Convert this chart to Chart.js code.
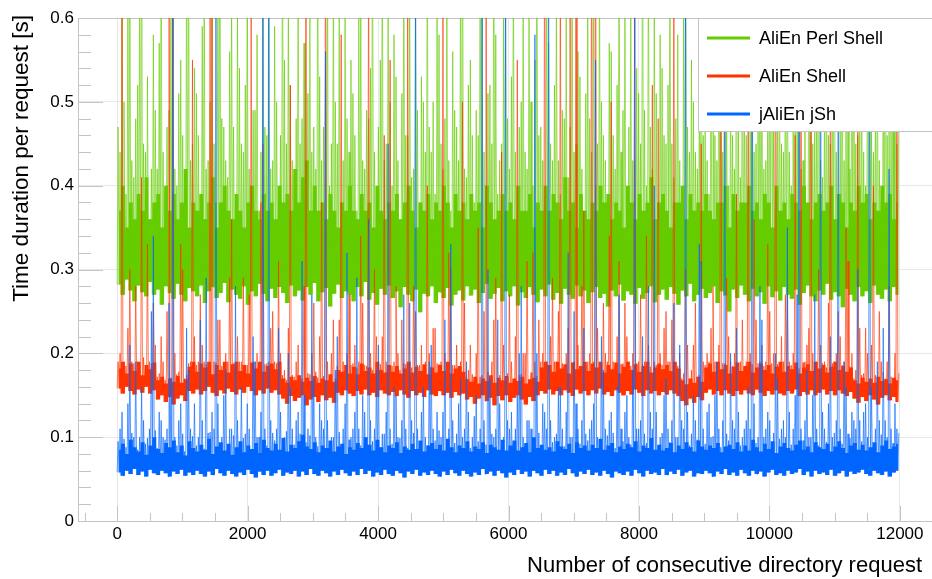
<!DOCTYPE html>
<html>
<head>
<meta charset="utf-8">
<script src="https://cdn.jsdelivr.net/npm/chart.js@4.4.1/dist/chart.umd.min.js"></script>
<style>
  html, body { margin: 0; padding: 0; background: #fff; overflow: hidden; }
  #wrap { width: 939px; height: 579px; }
</style>
</head>
<body>
<div id="wrap"><canvas id="chart" width="939" height="579"></canvas></div>
<script>
// every bin holds 60 consecutive requests [s]:
// lo = shortest time, top = upper edge of the dense band,
// hi / hi2 = the two longest times (spikes)
const binSize = 60;

const seriesNames = ["AliEn Perl Shell", "AliEn Shell", "jAliEn jSh"];
const seriesColors = ["#66cc00", "#ff3300", "#0066ff"];
const spikeColors = ["rgba(102,204,0,0.65)", "rgba(255,51,0,0.65)", "rgba(0,102,255,0.65)"];

const xTickValues = [0, 2000, 4000, 6000, 8000, 10000, 12000];
const yTickValues = [0, 0.1, 0.2, 0.3, 0.4, 0.5, 0.6];

const perlLo = [
  0.282, 0.27, 0.288, 0.275, 0.262, 0.281, 0.273, 0.268, 0.285, 0.27,
  0.276, 0.258, 0.28, 0.272, 0.265, 0.283, 0.27, 0.262, 0.278, 0.274,
  0.268, 0.281, 0.26, 0.274, 0.279, 0.266, 0.272, 0.284, 0.261, 0.276,
  0.27, 0.265, 0.28, 0.258, 0.274, 0.268, 0.283, 0.271, 0.262, 0.277,
  0.266, 0.279, 0.272, 0.26, 0.281, 0.268, 0.275, 0.263, 0.279, 0.27,
  0.284, 0.262, 0.273, 0.278, 0.256, 0.271, 0.282, 0.266, 0.274, 0.27,
  0.262, 0.279, 0.268, 0.285, 0.264, 0.272, 0.258, 0.277, 0.27, 0.281,
  0.266, 0.274, 0.255, 0.279, 0.27, 0.262, 0.276, 0.249, 0.271, 0.268,
  0.28, 0.26, 0.273, 0.266, 0.278, 0.257, 0.27, 0.275, 0.263, 0.28,
  0.269, 0.276, 0.26, 0.272, 0.283, 0.265, 0.271, 0.278, 0.262, 0.274,
  0.268, 0.28, 0.257, 0.273, 0.266, 0.279, 0.27, 0.261, 0.276, 0.268,
  0.282, 0.264, 0.272, 0.259, 0.277, 0.27, 0.265, 0.281, 0.268, 0.275,
  0.26, 0.273, 0.279, 0.266, 0.271, 0.256, 0.275, 0.268, 0.282, 0.263,
  0.274, 0.27, 0.259, 0.278, 0.265, 0.272, 0.28, 0.261, 0.27, 0.276,
  0.264, 0.279, 0.271, 0.258, 0.275, 0.268, 0.283, 0.262, 0.27, 0.277,
  0.266, 0.272, 0.28, 0.26, 0.274, 0.269, 0.25, 0.276, 0.266, 0.281,
  0.27, 0.262, 0.277, 0.268, 0.273, 0.259, 0.28, 0.267, 0.274, 0.263,
  0.279, 0.27, 0.265, 0.276, 0.258, 0.272, 0.281, 0.268, 0.262, 0.275,
  0.27, 0.283, 0.264, 0.273, 0.268, 0.255, 0.277, 0.27, 0.262, 0.279,
  0.268, 0.274, 0.26, 0.281, 0.27, 0.265, 0.276, 0.262, 0.279, 0.27
];
const perlTop = [
  0.37, 0.4, 0.35, 0.38, 0.36, 0.39, 0.37, 0.41, 0.36, 0.38,
  0.39, 0.35, 0.4, 0.37, 0.39, 0.36, 0.38, 0.42, 0.35, 0.38,
  0.37, 0.39, 0.36, 0.38, 0.41, 0.35, 0.38, 0.4, 0.37, 0.36,
  0.39, 0.37, 0.35, 0.38, 0.4, 0.37, 0.36, 0.39, 0.37, 0.38,
  0.36, 0.4, 0.38, 0.39, 0.37, 0.42, 0.38, 0.41, 0.43, 0.37,
  0.4, 0.37, 0.38, 0.36, 0.39, 0.37, 0.35, 0.38, 0.37, 0.4,
  0.37, 0.36, 0.39, 0.37, 0.38, 0.35, 0.4, 0.37, 0.36, 0.38,
  0.37, 0.39, 0.36, 0.38, 0.4, 0.37, 0.35, 0.38, 0.37, 0.39,
  0.36, 0.38, 0.37, 0.4, 0.38, 0.35, 0.39, 0.37, 0.38, 0.36,
  0.39, 0.37, 0.38, 0.35, 0.4, 0.38, 0.36, 0.37, 0.39, 0.37,
  0.38, 0.36, 0.4, 0.37, 0.37, 0.39, 0.35, 0.38, 0.37, 0.4,
  0.37, 0.39, 0.38, 0.36, 0.41, 0.37, 0.38, 0.35, 0.39, 0.37,
  0.36, 0.38, 0.37, 0.4, 0.38, 0.39, 0.36, 0.38, 0.37, 0.35,
  0.4, 0.38, 0.36, 0.39, 0.37, 0.38, 0.41, 0.36, 0.38, 0.39,
  0.37, 0.35, 0.38, 0.38, 0.4, 0.36, 0.39, 0.37, 0.38, 0.37,
  0.39, 0.37, 0.36, 0.38, 0.38, 0.4, 0.35, 0.39, 0.37, 0.38,
  0.38, 0.4, 0.37, 0.38, 0.36, 0.39, 0.38, 0.35, 0.4, 0.37,
  0.38, 0.36, 0.39, 0.38, 0.37, 0.4, 0.38, 0.36, 0.38, 0.39,
  0.37, 0.38, 0.4, 0.36, 0.39, 0.38, 0.35, 0.38, 0.37, 0.4,
  0.38, 0.39, 0.36, 0.38, 0.37, 0.4, 0.38, 0.39, 0.36, 0.38
];
const perlHi = [
  0.47, 0.62, 0.39, 0.7, 0.41, 0.52, 0.8, 0.44, 0.36, 0.58,
  0.42, 0.75, 0.38, 0.49, 0.66, 0.4, 0.55, 0.37, 0.72, 0.45,
  0.51, 0.39, 0.68, 0.43, 0.6, 0.38, 0.8, 0.47, 0.41, 0.63,
  0.36, 0.54, 0.44, 0.71, 0.4, 0.49, 0.37, 0.65, 0.46, 0.42,
  0.59, 0.38, 0.76, 0.45, 0.52, 0.41, 0.69, 0.48, 0.39, 0.62,
  0.47, 0.74, 0.43, 0.56, 0.4, 0.67, 0.45, 0.38, 0.6, 0.44,
  0.51, 0.37, 0.64, 0.42, 0.48, 0.78, 0.39, 0.55, 0.43, 0.66,
  0.4, 0.53, 0.36, 0.7, 0.46, 0.41, 0.61, 0.38, 0.5, 0.73,
  0.44, 0.39, 0.58, 0.42, 0.67, 0.37, 0.49, 0.43, 0.8, 0.41,
  0.55, 0.38, 0.46, 0.63, 0.4, 0.52, 0.74, 0.39, 0.45, 0.6,
  0.42, 0.69, 0.37, 0.5, 0.44, 0.62, 0.4, 0.77, 0.47, 0.38,
  0.57, 0.43, 0.65, 0.39, 0.48, 0.41, 0.72, 0.45, 0.53, 0.37,
  0.61, 0.44, 0.4, 0.68, 0.46, 0.38, 0.56, 0.42, 0.75, 0.49,
  0.39, 0.6, 0.43, 0.51, 0.79, 0.4, 0.47, 0.64, 0.38, 0.54,
  0.45, 0.71, 0.41, 0.58, 0.37, 0.66, 0.44, 0.5, 0.42, 0.73,
  0.48, 0.39, 0.62, 0.43, 0.55, 0.76, 0.4, 0.46, 0.67, 0.41,
  0.52, 0.38, 0.7, 0.45, 0.6, 0.42, 0.49, 0.8, 0.39, 0.57,
  0.44, 0.64, 0.4, 0.51, 0.73, 0.43, 0.37, 0.59, 0.47, 0.68,
  0.41, 0.55, 0.45, 0.77, 0.39, 0.62, 0.48, 0.42, 0.7, 0.46,
  0.53, 0.4, 0.66, 0.44, 0.58, 0.38, 0.72, 0.47, 0.61, 0.45
];
const perlHi2 = [
  0.44, 0.5, 0.61, 0.43, 0.48, 0.66, 0.45, 0.53, 0.42, 0.49,
  0.57, 0.44, 0.47, 0.63, 0.42, 0.51, 0.46, 0.7, 0.43, 0.54,
  0.46, 0.59, 0.42, 0.5, 0.45, 0.68, 0.48, 0.43, 0.56, 0.47,
  0.62, 0.45, 0.52, 0.42, 0.49, 0.58, 0.44, 0.47, 0.73, 0.43,
  0.5, 0.46, 0.55, 0.64, 0.43, 0.48, 0.45, 0.57, 0.51, 0.44,
  0.42, 0.53, 0.47, 0.69, 0.45, 0.5, 0.61, 0.43, 0.48, 0.55,
  0.46, 0.6, 0.43, 0.49, 0.54, 0.44, 0.47, 0.72, 0.45, 0.5,
  0.58, 0.43, 0.51, 0.46, 0.65, 0.42, 0.49, 0.53, 0.44, 0.47,
  0.5, 0.62, 0.45, 0.48, 0.43, 0.56, 0.47, 0.67, 0.42, 0.52,
  0.46, 0.49, 0.71, 0.44, 0.51, 0.45, 0.58, 0.43, 0.6, 0.48,
  0.53, 0.44, 0.47, 0.64, 0.42, 0.5, 0.55, 0.46, 0.43, 0.68,
  0.45, 0.52, 0.43, 0.49, 0.6, 0.47, 0.44, 0.56, 0.42, 0.51,
  0.48, 0.66, 0.45, 0.5, 0.43, 0.57, 0.46, 0.52, 0.44, 0.63,
  0.47, 0.43, 0.54, 0.45, 0.49, 0.7, 0.42, 0.51, 0.58, 0.46,
  0.52, 0.45, 0.48, 0.43, 0.61, 0.47, 0.55, 0.44, 0.5, 0.46,
  0.43, 0.57, 0.46, 0.65, 0.44, 0.49, 0.53, 0.42, 0.47, 0.6,
  0.46, 0.51, 0.44, 0.48, 0.56, 0.43, 0.69, 0.47, 0.5, 0.45,
  0.59, 0.44, 0.48, 0.53, 0.42, 0.47, 0.62, 0.45, 0.51, 0.43,
  0.5, 0.46, 0.57, 0.44, 0.49, 0.43, 0.54, 0.66, 0.45, 0.48,
  0.44, 0.61, 0.47, 0.5, 0.43, 0.55, 0.46, 0.49, 0.64, 0.52
];

const shellLo = [
  0.158, 0.152, 0.16, 0.155, 0.151, 0.157, 0.153, 0.16, 0.152, 0.156,
  0.145, 0.15, 0.142, 0.148, 0.139, 0.146, 0.15, 0.143, 0.155, 0.152,
  0.157, 0.151, 0.155, 0.16, 0.153, 0.149, 0.156, 0.152, 0.158, 0.154,
  0.151, 0.157, 0.153, 0.16, 0.155, 0.15, 0.156, 0.152, 0.158, 0.153,
  0.156, 0.151, 0.146, 0.14, 0.149, 0.143, 0.147, 0.15, 0.138, 0.145,
  0.148, 0.142, 0.15, 0.144, 0.147, 0.141, 0.153, 0.15, 0.156, 0.152,
  0.149, 0.155, 0.151, 0.157, 0.15, 0.153, 0.148, 0.156, 0.152, 0.15,
  0.154, 0.149, 0.156, 0.151, 0.147, 0.155, 0.15, 0.153, 0.148, 0.156,
  0.151, 0.149, 0.155, 0.15, 0.153, 0.147, 0.154, 0.15, 0.152, 0.145,
  0.148, 0.14, 0.146, 0.15, 0.143, 0.147, 0.138, 0.149, 0.144, 0.15,
  0.142, 0.147, 0.15, 0.145, 0.139, 0.148, 0.143, 0.15, 0.155, 0.152,
  0.157, 0.151, 0.155, 0.15, 0.156, 0.153, 0.149, 0.157, 0.152, 0.155,
  0.15, 0.156, 0.152, 0.158, 0.151, 0.154, 0.149, 0.156, 0.153, 0.15,
  0.155, 0.151, 0.157, 0.153, 0.149, 0.156, 0.152, 0.155, 0.15, 0.154,
  0.151, 0.156, 0.152, 0.149, 0.143, 0.138, 0.146, 0.141, 0.148, 0.144,
  0.153, 0.157, 0.151, 0.155, 0.15, 0.156, 0.152, 0.149, 0.155, 0.151,
  0.156, 0.152, 0.15, 0.157, 0.153, 0.149, 0.155, 0.151, 0.156, 0.152,
  0.15, 0.155, 0.152, 0.157, 0.149, 0.154, 0.151, 0.156, 0.15, 0.153,
  0.157, 0.151, 0.155, 0.15, 0.156, 0.152, 0.149, 0.154, 0.146, 0.141,
  0.148, 0.143, 0.15, 0.145, 0.139, 0.147, 0.15, 0.144, 0.148, 0.142
];
const shellTop = [
  0.182, 0.19, 0.176, 0.188, 0.179, 0.19, 0.174, 0.186, 0.181, 0.189,
  0.168, 0.172, 0.164, 0.17, 0.166, 0.173, 0.165, 0.169, 0.184, 0.19,
  0.178, 0.188, 0.183, 0.19, 0.175, 0.186, 0.18, 0.19, 0.177, 0.187,
  0.19, 0.179, 0.186, 0.176, 0.189, 0.182, 0.19, 0.178, 0.185, 0.188,
  0.181, 0.19, 0.17, 0.165, 0.172, 0.168, 0.174, 0.166, 0.171, 0.167,
  0.173, 0.165, 0.17, 0.168, 0.175, 0.166, 0.18, 0.178, 0.186, 0.176,
  0.184, 0.175, 0.188, 0.179, 0.183, 0.176, 0.19, 0.18, 0.177, 0.186,
  0.178, 0.185, 0.176, 0.182, 0.19, 0.177, 0.184, 0.179, 0.187, 0.175,
  0.183, 0.177, 0.186, 0.179, 0.19, 0.176, 0.182, 0.185, 0.178, 0.169,
  0.166, 0.172, 0.164, 0.17, 0.167, 0.174, 0.165, 0.171, 0.168, 0.173,
  0.165, 0.17, 0.167, 0.172, 0.164, 0.169, 0.171, 0.166, 0.183, 0.19,
  0.186, 0.178, 0.19, 0.182, 0.187, 0.176, 0.189, 0.181, 0.185, 0.19,
  0.179, 0.188, 0.183, 0.19, 0.177, 0.186, 0.181, 0.189, 0.176, 0.184,
  0.19, 0.18, 0.187, 0.178, 0.185, 0.19, 0.177, 0.183, 0.188, 0.181,
  0.186, 0.179, 0.19, 0.182, 0.168, 0.163, 0.17, 0.165, 0.172, 0.166,
  0.183, 0.188, 0.178, 0.19, 0.181, 0.186, 0.176, 0.184, 0.189, 0.179,
  0.185, 0.19, 0.177, 0.183, 0.188, 0.18, 0.186, 0.176, 0.184, 0.19,
  0.178, 0.185, 0.181, 0.189, 0.176, 0.183, 0.187, 0.179, 0.19, 0.182,
  0.186, 0.177, 0.184, 0.19, 0.18, 0.185, 0.178, 0.183, 0.168, 0.164,
  0.171, 0.166, 0.17, 0.165, 0.172, 0.167, 0.169, 0.164, 0.171, 0.168
];
const shellHi = [
  0.19, 0.64, 0.185, 0.3, 0.188, 0.19, 0.41, 0.182, 0.19, 0.26,
  0.172, 0.22, 0.168, 0.8, 0.8, 0.175, 0.33, 0.17, 0.188, 0.55,
  0.186, 0.27, 0.19, 0.183, 0.7, 0.189, 0.24, 0.185, 0.19, 0.36,
  0.184, 0.19, 0.29, 0.186, 0.62, 0.19, 0.182, 0.45, 0.188, 0.23,
  0.19, 0.31, 0.174, 0.168, 0.52, 0.172, 0.21, 0.17, 0.8, 0.175,
  0.26, 0.171, 0.38, 0.8, 0.169, 0.24, 0.185, 0.58, 0.18, 0.27,
  0.188, 0.183, 0.34, 0.186, 0.7, 0.18, 0.22, 0.187, 0.46, 0.182,
  0.185, 0.28, 0.18, 0.188, 0.6, 0.183, 0.25, 0.186, 0.181, 0.4,
  0.184, 0.23, 0.187, 0.65, 0.182, 0.3, 0.186, 0.18, 0.5, 0.172,
  0.21, 0.168, 0.35, 0.174, 0.8, 0.17, 0.24, 0.166, 0.44, 0.172,
  0.27, 0.169, 0.55, 0.175, 0.2, 0.167, 0.32, 0.173, 0.19, 0.8,
  0.186, 0.29, 0.19, 0.68, 0.184, 0.23, 0.189, 0.75, 0.185, 0.37,
  0.19, 0.8, 0.8, 0.186, 0.26, 0.19, 0.5, 0.183, 0.31, 0.188,
  0.22, 0.185, 0.63, 0.19, 0.187, 0.34, 0.184, 0.19, 0.48, 0.186,
  0.25, 0.19, 0.7, 0.185, 0.17, 0.3, 0.168, 0.21, 0.172, 0.45,
  0.186, 0.19, 0.28, 0.184, 0.8, 0.188, 0.22, 0.185, 0.39, 0.19,
  0.183, 0.57, 0.187, 0.24, 0.19, 0.185, 0.33, 0.188, 0.72, 0.184,
  0.19, 0.27, 0.186, 0.46, 0.182, 0.189, 0.21, 0.8, 0.185, 0.3,
  0.188, 0.183, 0.6, 0.19, 0.25, 0.186, 0.35, 0.184, 0.17, 0.52,
  0.174, 0.23, 0.168, 0.4, 0.172, 0.19, 0.17, 0.28, 0.166, 0.62
];
const shellHi2 = [
  0.2, 0.186, 0.23, 0.19, 0.28, 0.184, 0.195, 0.33, 0.188, 0.21,
  0.176, 0.19, 0.25, 0.171, 0.2, 0.178, 0.3, 0.174, 0.19, 0.22,
  0.19, 0.21, 0.187, 0.6, 0.19, 0.24, 0.185, 0.2, 0.29, 0.188,
  0.22, 0.19, 0.186, 0.27, 0.19, 0.2, 0.38, 0.187, 0.19, 0.25,
  0.188, 0.2, 0.18, 0.23, 0.174, 0.19, 0.172, 0.28, 0.176, 0.2,
  0.178, 0.22, 0.173, 0.19, 0.2, 0.17, 0.24, 0.19, 0.2, 0.186,
  0.21, 0.19, 0.26, 0.185, 0.2, 0.3, 0.188, 0.22, 0.19, 0.55,
  0.19, 0.2, 0.24, 0.187, 0.19, 0.28, 0.186, 0.21, 0.19, 0.2,
  0.23, 0.188, 0.19, 0.2, 0.32, 0.186, 0.21, 0.19, 0.26, 0.18,
  0.175, 0.2, 0.172, 0.25, 0.178, 0.19, 0.29, 0.174, 0.21, 0.176,
  0.19, 0.22, 0.174, 0.2, 0.31, 0.177, 0.19, 0.24, 0.2, 0.19,
  0.22, 0.19, 0.25, 0.188, 0.2, 0.62, 0.19, 0.21, 0.28, 0.186,
  0.2, 0.19, 0.23, 0.188, 0.2, 0.34, 0.19, 0.22, 0.187, 0.26,
  0.19, 0.2, 0.188, 0.27, 0.19, 0.21, 0.52, 0.186, 0.2, 0.23,
  0.19, 0.24, 0.188, 0.2, 0.176, 0.21, 0.18, 0.26, 0.174, 0.19,
  0.2, 0.23, 0.19, 0.21, 0.188, 0.29, 0.19, 0.2, 0.187, 0.24,
  0.19, 0.2, 0.36, 0.188, 0.21, 0.19, 0.25, 0.2, 0.187, 0.22,
  0.27, 0.19, 0.2, 0.188, 0.58, 0.19, 0.23, 0.2, 0.19, 0.21,
  0.19, 0.26, 0.188, 0.2, 0.22, 0.19, 0.31, 0.2, 0.18, 0.23,
  0.176, 0.2, 0.21, 0.174, 0.25, 0.178, 0.19, 0.172, 0.2, 0.176
];

const jshLo = [
  0.058, 0.054, 0.06, 0.056, 0.062, 0.055, 0.059, 0.053, 0.061, 0.057,
  0.055, 0.06, 0.057, 0.053, 0.059, 0.056, 0.061, 0.054, 0.058, 0.055,
  0.06, 0.056, 0.053, 0.059, 0.055, 0.062, 0.057, 0.054, 0.06, 0.056,
  0.053, 0.058, 0.055, 0.061, 0.056, 0.052, 0.059, 0.055, 0.06, 0.054,
  0.057, 0.061, 0.054, 0.058, 0.056, 0.06, 0.053, 0.059, 0.055, 0.062,
  0.056, 0.054, 0.06, 0.057, 0.053, 0.059, 0.055, 0.061, 0.057, 0.054,
  0.059, 0.055, 0.062, 0.056, 0.06, 0.053, 0.058, 0.055, 0.061, 0.056,
  0.054, 0.06, 0.057, 0.052, 0.059, 0.056, 0.061, 0.054, 0.058, 0.055,
  0.06, 0.056, 0.053, 0.059, 0.055, 0.061, 0.057, 0.054, 0.06, 0.056,
  0.053, 0.058, 0.055, 0.062, 0.056, 0.059, 0.054, 0.06, 0.057, 0.052,
  0.058, 0.055, 0.061, 0.056, 0.059, 0.053, 0.06, 0.057, 0.054, 0.061,
  0.056, 0.06, 0.054, 0.058, 0.055, 0.062, 0.057, 0.053, 0.059, 0.056,
  0.061, 0.055, 0.058, 0.054, 0.06, 0.056, 0.052, 0.059, 0.057, 0.055,
  0.059, 0.054, 0.061, 0.057, 0.053, 0.06, 0.056, 0.058, 0.055, 0.062,
  0.055, 0.059, 0.056, 0.061, 0.054, 0.058, 0.06, 0.053, 0.057, 0.056,
  0.06, 0.057, 0.053, 0.059, 0.056, 0.062, 0.055, 0.058, 0.054, 0.061,
  0.057, 0.054, 0.06, 0.056, 0.059, 0.053, 0.058, 0.061, 0.055, 0.057,
  0.054, 0.06, 0.056, 0.058, 0.062, 0.055, 0.059, 0.053, 0.06, 0.056,
  0.058, 0.055, 0.061, 0.054, 0.057, 0.06, 0.053, 0.059, 0.056, 0.058,
  0.061, 0.056, 0.054, 0.06, 0.057, 0.055, 0.059, 0.053, 0.058, 0.06
];
const jshTop = [
  0.085, 0.092, 0.08, 0.097, 0.088, 0.083, 0.094, 0.079, 0.09, 0.1,
  0.086, 0.081, 0.093, 0.088, 0.096, 0.082, 0.09, 0.078, 0.095, 0.087,
  0.083, 0.091, 0.085, 0.098, 0.08, 0.089, 0.094, 0.084, 0.092, 0.079,
  0.088, 0.095, 0.082, 0.09, 0.086, 0.093, 0.081, 0.097, 0.087, 0.084,
  0.092, 0.085, 0.099, 0.083, 0.091, 0.087, 0.095, 0.103, 0.089, 0.086,
  0.094, 0.082, 0.09, 0.087, 0.096, 0.083, 0.089, 0.092, 0.08, 0.088,
  0.085, 0.093, 0.087, 0.1, 0.091, 0.084, 0.097, 0.088, 0.082, 0.09,
  0.087, 0.094, 0.081, 0.089, 0.085, 0.092, 0.086, 0.096, 0.083, 0.09,
  0.093, 0.086, 0.091, 0.084, 0.098, 0.088, 0.082, 0.09, 0.087, 0.095,
  0.083, 0.089, 0.086, 0.094, 0.081, 0.091, 0.088, 0.085, 0.097, 0.084,
  0.09, 0.096, 0.084, 0.088, 0.093, 0.082, 0.1, 0.087, 0.091, 0.085,
  0.088, 0.083, 0.095, 0.089, 0.086, 0.092, 0.081, 0.094, 0.087, 0.09,
  0.084, 0.091, 0.087, 0.098, 0.085, 0.09, 0.093, 0.082, 0.089, 0.086,
  0.092, 0.088, 0.095, 0.083, 0.09, 0.087, 0.099, 0.085, 0.091, 0.084,
  0.087, 0.093, 0.082, 0.09, 0.086, 0.094, 0.088, 0.083, 0.096, 0.089,
  0.085, 0.09, 0.087, 0.093, 0.082, 0.089, 0.091, 0.086, 0.094, 0.083,
  0.09, 0.084, 0.097, 0.088, 0.083, 0.092, 0.086, 0.095, 0.081, 0.089,
  0.093, 0.087, 0.084, 0.091, 0.096, 0.085, 0.089, 0.082, 0.094, 0.088,
  0.086, 0.092, 0.083, 0.089, 0.095, 0.087, 0.081, 0.09, 0.093, 0.085,
  0.091, 0.084, 0.088, 0.094, 0.082, 0.09, 0.096, 0.086, 0.089, 0.092
];
const jshHi = [
  0.095, 0.13, 0.088, 0.21, 0.1, 0.085, 0.16, 0.092, 0.11, 0.34,
  0.087, 0.12, 0.097, 0.26, 0.7, 0.09, 0.14, 0.083, 0.18, 0.101,
  0.09, 0.24, 0.086, 0.105, 0.13, 0.62, 0.093, 0.15, 0.088, 0.11,
  0.28, 0.092, 0.099, 0.14, 0.085, 0.19, 0.1, 0.7, 0.09, 0.12,
  0.096, 0.23, 0.088, 0.107, 0.16, 0.091, 0.13, 0.31, 0.094, 0.102,
  0.17, 0.089, 0.12, 0.56, 0.093, 0.1, 0.22, 0.086, 0.14, 0.097,
  0.11, 0.29, 0.09, 0.13, 0.36, 0.095, 0.18, 0.088, 0.104, 0.45,
  0.092, 0.15, 0.099, 0.27, 0.087, 0.12, 0.7, 0.094, 0.16, 0.09,
  0.21, 0.096, 0.108, 0.13, 0.089, 0.33, 0.093, 0.14, 0.1, 0.19,
  0.087, 0.125, 0.095, 0.66, 0.091, 0.17, 0.1, 0.24, 0.088, 0.7,
  0.11, 0.093, 0.15, 0.28, 0.09, 0.12, 0.097, 0.2, 0.086, 0.13,
  0.7, 0.094, 0.104, 0.16, 0.089, 0.32, 0.1, 0.14, 0.092, 0.23,
  0.096, 0.12, 0.55, 0.09, 0.18, 0.102, 0.13, 0.087, 0.27, 0.095,
  0.15, 0.091, 0.7, 0.11, 0.22, 0.093, 0.13, 0.4, 0.088, 0.105,
  0.17, 0.094, 0.26, 0.1, 0.12, 0.7, 0.09, 0.15, 0.097, 0.31,
  0.092, 0.14, 0.101, 0.19, 0.088, 0.64, 0.096, 0.12, 0.23, 0.09,
  0.11, 0.16, 0.7, 0.093, 0.28, 0.1, 0.13, 0.089, 0.2, 0.098,
  0.12, 0.35, 0.091, 0.15, 0.7, 0.096, 0.18, 0.1, 0.27, 0.09,
  0.13, 0.094, 0.22, 0.105, 0.58, 0.092, 0.16, 0.099, 0.12, 0.3,
  0.095, 0.14, 0.7, 0.09, 0.19, 0.103, 0.12, 0.42, 0.093, 0.11
];
const jshHi2 = [
  0.11, 0.098, 0.14, 0.105, 0.19, 0.1, 0.12, 0.099, 0.25, 0.108,
  0.13, 0.1, 0.11, 0.17, 0.1, 0.12, 0.104, 0.23, 0.11, 0.14,
  0.1, 0.12, 0.29, 0.106, 0.11, 0.14, 0.1, 0.18, 0.11, 0.102,
  0.12, 0.16, 0.104, 0.11, 0.22, 0.1, 0.13, 0.11, 0.6, 0.105,
  0.11, 0.13, 0.1, 0.2, 0.11, 0.12, 0.104, 0.15, 0.11, 0.27,
  0.1, 0.14, 0.11, 0.12, 0.1, 0.18, 0.106, 0.11, 0.32, 0.1,
  0.13, 0.11, 0.15, 0.1, 0.12, 0.11, 0.21, 0.104, 0.13, 0.11,
  0.16, 0.1, 0.12, 0.11, 0.26, 0.105, 0.11, 0.13, 0.1, 0.19,
  0.11, 0.13, 0.1, 0.24, 0.11, 0.12, 0.104, 0.17, 0.11, 0.13,
  0.1, 0.15, 0.11, 0.12, 0.3, 0.104, 0.11, 0.14, 0.1, 0.12,
  0.13, 0.11, 0.2, 0.1, 0.12, 0.11, 0.58, 0.105, 0.14, 0.11,
  0.12, 0.1, 0.16, 0.11, 0.13, 0.1, 0.25, 0.11, 0.12, 0.104,
  0.11, 0.14, 0.1, 0.22, 0.11, 0.12, 0.105, 0.16, 0.11, 0.13,
  0.1, 0.18, 0.11, 0.12, 0.104, 0.28, 0.11, 0.13, 0.1, 0.15,
  0.11, 0.12, 0.1, 0.21, 0.11, 0.13, 0.104, 0.12, 0.33, 0.11,
  0.13, 0.1, 0.15, 0.11, 0.12, 0.104, 0.2, 0.11, 0.13, 0.1,
  0.12, 0.11, 0.14, 0.1, 0.24, 0.11, 0.12, 0.105, 0.17, 0.11,
  0.1, 0.13, 0.11, 0.27, 0.11, 0.12, 0.1, 0.15, 0.11, 0.62,
  0.11, 0.14, 0.1, 0.12, 0.11, 0.19, 0.104, 0.13, 0.11, 0.12,
  0.13, 0.1, 0.16, 0.11, 0.12, 0.23, 0.1, 0.11, 0.14, 0.105
];

const fontFamily = "'Liberation Sans', Arial, Helvetica, sans-serif";
const frameColor = "#c4c4c4";

// spikes: per bin the trace goes lo -> hi -> lo -> hi2
function spikePoints(lo, hi, hi2) {
  let pts = [];
  lo.forEach((v, i) => {
    let x0 = i * binSize;
    pts.push({ x: x0, y: v });
    pts.push({ x: x0 + binSize / 4, y: hi[i] });
    pts.push({ x: x0 + binSize / 2, y: v });
    pts.push({ x: x0 + (binSize * 3) / 4, y: hi2[i] });
  });
  return pts;
}

// one edge of the dense band, one point per bin
function edgePoints(values) {
  return values.map((v, i) => ({ x: i * binSize + binSize / 2, y: v }));
}

// three datasets per series: band bottom, band top (filled down to bottom), spikes
function seriesDatasets(s, lo, top, hi, hi2, baseIndex, baseOrder) {
  return [
    { label: seriesNames[s] + " lo", data: edgePoints(lo), borderWidth: 0, borderColor: seriesColors[s], stepped: "middle", fill: false, order: baseOrder + 2 },
    { label: seriesNames[s] + " band", data: edgePoints(top), borderWidth: 0, borderColor: seriesColors[s], backgroundColor: seriesColors[s], stepped: "middle", fill: baseIndex, order: baseOrder + 1 },
    { label: seriesNames[s], data: spikePoints(lo, hi, hi2), borderWidth: 1, borderColor: spikeColors[s], fill: false, order: baseOrder },
  ];
}

const axisDecor = {
  id: "axisDecor",
  beforeDatasetsDraw(chart) {
    const { ctx, chartArea } = chart;
    const xs = chart.scales.x;
    const ys = chart.scales.y;
    ctx.save();
    ctx.strokeStyle = frameColor;
    ctx.lineWidth = 1;
    ctx.beginPath();
    for (let k = 0; k <= 30; k++) {
      let py = Math.round(ys.getPixelForValue(k * 0.02)) + 0.5;
      ctx.moveTo(chartArea.left, py);
      ctx.lineTo(chartArea.left + (k % 5 === 0 ? 25 : 13), py);
    }
    for (let v = -500; v <= 12500; v += 500) {
      let px = Math.round(xs.getPixelForValue(v)) + 0.5;
      ctx.moveTo(px, chartArea.bottom);
      ctx.lineTo(px, chartArea.bottom - (v % 2000 === 0 ? 15 : 8));
    }
    ctx.moveTo(chartArea.left, chartArea.top + 0.5);
    ctx.lineTo(chartArea.right, chartArea.top + 0.5);
    ctx.stroke();
    ctx.restore();
  },
  afterDraw(chart) {
    const ctx = chart.ctx;
    ctx.save();

    // axis titles
    ctx.fillStyle = "#000";
    ctx.font = "22px " + fontFamily;
    ctx.textAlign = "right";
    ctx.textBaseline = "alphabetic";
    ctx.fillText("Number of consecutive directory request", 922, 572);

    ctx.save();
    ctx.translate(28, 15);
    ctx.rotate(-Math.PI / 2);
    ctx.font = "22.5px " + fontFamily;
    ctx.fillText("Time duration per request [s]", 0, 0);
    ctx.restore();

    // legend box
    ctx.fillStyle = "#fff";
    ctx.fillRect(698, 18, 245, 114);
    ctx.strokeStyle = frameColor;
    ctx.lineWidth = 1;
    ctx.strokeRect(698.5, 18.5, 245, 113);

    const rows = [38, 76, 114];
    ctx.font = "18px " + fontFamily;
    ctx.textAlign = "left";
    ctx.textBaseline = "middle";
    seriesNames.forEach((name, i) => {
      ctx.strokeStyle = seriesColors[i];
      ctx.lineWidth = 3;
      ctx.beginPath();
      ctx.moveTo(707, rows[i]);
      ctx.lineTo(750, rows[i]);
      ctx.stroke();
      ctx.fillStyle = "#000";
      ctx.fillText(name, 759, rows[i] + 1);
    });

    ctx.restore();
  },
};

const ctx = document.getElementById("chart");

new Chart(ctx, {
  type: "line",
  data: {
    datasets: [
      ...seriesDatasets(0, perlLo, perlTop, perlHi, perlHi2, 0, 20),
      ...seriesDatasets(1, shellLo, shellTop, shellHi, shellHi2, 3, 10),
      ...seriesDatasets(2, jshLo, jshTop, jshHi, jshHi2, 6, 0),
    ],
  },
  options: {
    responsive: false,
    animation: false,
    devicePixelRatio: 1,
    layout: { padding: { top: 18, left: 0, right: 0, bottom: 0 } },
    elements: {
      point: { radius: 0 },
      line: { tension: 0 },
    },
    plugins: {
      legend: { display: false },
      tooltip: { enabled: false },
      filler: { propagate: false },
    },
    scales: {
      x: {
        type: "linear",
        min: -600,
        max: 12600,
        afterBuildTicks: (scale) => {
          scale.ticks = xTickValues.map((v) => ({ value: v }));
        },
        afterFit: (scale) => {
          scale.height = 58;
        },
        ticks: {
          autoSkip: false,
          maxRotation: 0,
          padding: 3,
          color: "#000",
          font: { family: fontFamily, size: 17 },
          callback: (v) => String(v),
        },
        grid: { color: "#e8e8e8", drawTicks: false },
        border: { color: frameColor },
      },
      y: {
        min: 0,
        max: 0.6,
        afterBuildTicks: (scale) => {
          scale.ticks = yTickValues.map((v) => ({ value: v }));
        },
        afterFit: (scale) => {
          scale.width = 78;
        },
        ticks: {
          padding: 4,
          color: "#000",
          font: { family: fontFamily, size: 17 },
          callback: (v) => (v === 0 ? "0" : v.toFixed(1)),
        },
        grid: { color: "#e8e8e8", drawTicks: false },
        border: { color: frameColor },
      },
    },
  },
  plugins: [axisDecor],
});
</script>
</body>
</html>
